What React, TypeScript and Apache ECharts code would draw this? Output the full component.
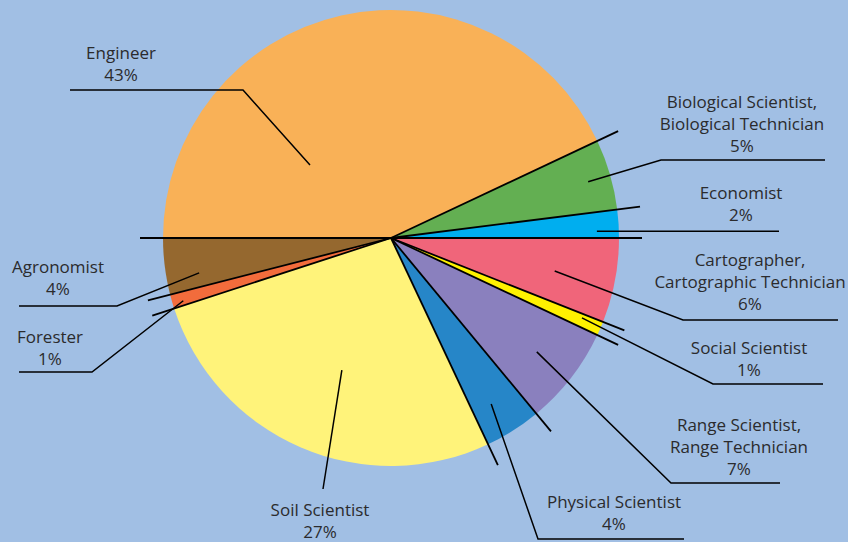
import React, { useEffect, useRef } from "react";
import * as echarts from "echarts";

// ---- data (clockwise from the left horizontal) ----
const categories: string[] = [
  "Engineer",
  "Biological Scientist,\nBiological Technician",
  "Economist",
  "Cartographer,\nCartographic Technician",
  "Social Scientist",
  "Range Scientist,\nRange Technician",
  "Physical Scientist",
  "Soil Scientist",
  "Forester",
  "Agronomist",
];
const shares: number[] = [43, 5, 2, 6, 1, 7, 4, 27, 1, 4];
const sliceColors: string[] = [
  "#F9B157",
  "#63AF52",
  "#00AEEF",
  "#F0657A",
  "#FFF200",
  "#8A80BE",
  "#2686C8",
  "#FFF37A",
  "#F26C3C",
  "#95682F",
];

// ---- layout ----
const W = 848;
const H = 542;
const CX = 391;
const CY = 238;
const R = 228;
const R_EXT = 251;
const START = 180;
const BG = "#A1BFE4";
const INK = "#2B2B2D";

type LabelPos = {
  text: [number, number];
  dA: number;
  r: number;
  elbow: [number, number] | null;
  end: number | null;
};
const labelPositions: LabelPos[] = [
  { text: [121, 63], dA: 35.4, r: 109, elbow: [243, 90], end: 70 },
  { text: [742, 123], dA: -0.3, r: 205, elbow: [661, 160], end: 825 },
  { text: [741, 203], dA: -1.7, r: 206, elbow: null, end: 779 },
  { text: [750, 281], dA: -0.6, r: 167, elbow: [683, 320], end: 838 },
  { text: [749, 358], dA: 0.7, r: 207, elbow: [713, 384], end: 823 },
  { text: [739, 446], dA: -0.2, r: 185, elbow: [671, 483], end: 780 },
  { text: [614, 512], dA: -1.3, r: 194, elbow: [538, 539], end: 684 },
  { text: [320, 520], dA: 3.0, r: 141, elbow: [323, 489], end: null },
  { text: [50, 347], dA: 0.6, r: 217, elbow: [92, 372], end: 19 },
  { text: [58, 277], dA: 3.1, r: 195, elbow: [117, 306], end: 19 },
];

const polar = (deg: number, r: number): [number, number] => {
  const a = (deg * Math.PI) / 180;
  return [CX + r * Math.cos(a), CY - r * Math.sin(a)];
};

function buildGraphics() {
  const total = shares.reduce((s, v) => s + v, 0);
  const els: any[] = [];
  let angle = START;
  const bounds: number[] = [angle];
  const mids: number[] = [];
  shares.forEach((v) => {
    const sweep = (v / total) * 360;
    mids.push(angle - sweep / 2);
    angle -= sweep;
    bounds.push(angle);
  });
  // extended slice boundaries
  bounds.slice(0, -1).forEach((b) => {
    const [x2, y2] = polar(b, R_EXT);
    els.push({
      type: "line",
      z: 10,
      silent: true,
      shape: { x1: CX, y1: CY, x2, y2 },
      style: { stroke: "#000", lineWidth: 1.8 },
    });
  });
  // leader lines and labels
  labelPositions.forEach((lp, i) => {
    const inner = polar(mids[i] + lp.dA, lp.r);
    const pts: number[][] = [inner];
    if (lp.elbow) pts.push(lp.elbow);
    if (lp.end !== null) {
      const last = pts[pts.length - 1];
      pts.push([lp.end, last[1]]);
    }
    els.push({
      type: "polyline",
      z: 10,
      silent: true,
      shape: { points: pts },
      style: { stroke: "#000", lineWidth: 1.5, fill: null },
    });
    els.push({
      type: "text",
      z: 11,
      silent: true,
      x: lp.text[0],
      y: lp.text[1],
      style: {
        text: `${categories[i]}\n${Math.round((shares[i] / total) * 100)}%`,
        fill: INK,
        font: '17px "Open Sans", sans-serif',
        lineHeight: 22,
        align: "center",
        verticalAlign: "middle",
      },
    });
  });
  return els;
}

export default function App() {
  const ref = useRef<HTMLDivElement>(null);
  useEffect(() => {
    if (!ref.current) return;
    const chart = echarts.init(ref.current, null, { renderer: "svg" });
    chart.setOption({
      animation: false,
      backgroundColor: BG,
      series: [
        {
          type: "pie",
          center: [CX, CY],
          radius: R,
          startAngle: START,
          clockwise: true,
          silent: true,
          label: { show: false },
          labelLine: { show: false },
          itemStyle: { borderWidth: 0 },
          data: categories.map((name, i) => ({
            name,
            value: shares[i],
            itemStyle: { color: sliceColors[i] },
          })),
        },
      ],
      graphic: { elements: buildGraphics() },
    });
    return () => chart.dispose();
  }, []);
  return (
    <div
      ref={ref}
      style={{ position: "fixed", left: 0, top: 0, width: W, height: H, background: BG }}
    />
  );
}
